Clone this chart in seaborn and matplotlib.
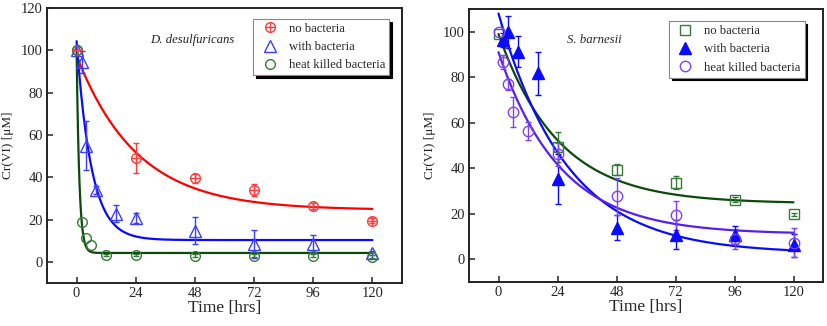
import numpy as np
import pandas as pd
import seaborn as sns
import matplotlib
matplotlib.use("Agg")
import matplotlib.pyplot as plt
from matplotlib.lines import Line2D

sns.set_theme(style="ticks")
plt.rcParams['font.family'] = ['Liberation Serif', 'DejaVu Serif']
plt.rcParams['mathtext.fontset'] = 'stix'

# ---------------- data: D. desulfuricans (left) ----------------
L_no_t = [0, 24, 48, 72, 96, 120]
L_no_y = [100, 49, 39.5, 34, 26.3, 19.5]
L_no_e = [0, 7, 2, 3, 1.5, 1]

L_with_t = [0, 2, 4, 8, 16, 24, 48, 72, 96, 120]
L_with_y = [100, 94.5, 55, 34, 22.7, 20.8, 14.8, 8.4, 8.4, 4.1]
L_with_e = [0, 5, 11.5, 2, 4, 2.5, 6.5, 6.5, 4.3, 1]

L_heat_t = [0, 2, 4, 6, 12, 24, 48, 72, 96, 120]
L_heat_y = [100, 19, 11.3, 7.9, 3.3, 3.3, 3.0, 3.0, 3.0, 2.4]
L_heat_e = [0, 0, 0, 0, 0.6, 0.6, 0.8, 0.8, 0.8, 0.8]

# fitted exponential-decay parameters (offset, amplitude, rate)
L_no_fit = (24.5, 73.0, 0.041)
L_with_fit = (10.3, 94.0, 0.167)
L_heat_fit = (4.2, 96.0, 0.9)

# ---------------- data: S. barnesii (right) ----------------
R_no_t = [0, 24, 48, 72, 96, 120]
R_no_y = [99, 49.3, 39.4, 33.7, 26.2, 19.7]
R_no_e = [0, 6.6, 2.3, 3, 1, 0.8]

R_with_t = [2, 4, 8, 16, 24, 48, 72, 96, 120]
R_with_y = [96.5, 100, 91.3, 81.8, 35.1, 13.9, 10.8, 10.5, 6.2]
R_with_e = [3, 7, 7, 9.5, 11, 5.5, 6.5, 4, 5]

R_heat_t = [0, 2, 4, 6, 12, 24, 48, 72, 96, 120]
R_heat_y = [100, 86.7, 76.9, 64.7, 56.4, 46.1, 27.6, 19.3, 8.8, 7.3]
R_heat_e = [0, 3, 2.5, 6.7, 4, 5, 8, 6.3, 4.5, 6.5]

R_no_fit = (24.5, 74.5, 0.041)
R_with_fit = (2.5, 105.5, 0.036)
R_heat_fit = (11.0, 80.0, 0.040)

xticks = [0, 24, 48, 72, 96, 120]
labels = ["no bacteria", "with bacteria", "heat killed bacteria"]

W, H = 827, 326
fig = plt.figure(figsize=(W / 100, H / 100), dpi=100)
axL = fig.add_axes([47 / W, (H - 283) / H, 355 / W, 275 / H])
axR = fig.add_axes([469 / W, (H - 282) / H, 354 / W, 273 / H])

tt = np.linspace(0, 120, 400)


def fitcurve(ax, p, color):
    c, a, k = p
    df = pd.DataFrame({"t": tt, "y": c + a * np.exp(-k * tt)})
    sns.lineplot(data=df, x="t", y="y", ax=ax, color=color, lw=1.6, zorder=2)


def points(ax, t, y, e, color, marker, filled=False, ms=7):
    e = [v if v > 0 else np.nan for v in e]
    ax.errorbar(t, y, yerr=e, fmt=marker, ms=ms, mfc=color if filled else 'none',
                mec=color, mew=1.0, ecolor=color, elinewidth=1.0, capsize=2.5,
                capthick=1.0, zorder=3)


# colours
red_l, red_m = '#ff0000', '#ff3b3b'
blue_l, blue_m = '#0a0aff', '#3d3dff'
dgreen_l, green_m = '#0b4a0b', '#357a35'
purple_l, purple_m = '#5520ee', '#8040ff'

# ---- left panel ----
fitcurve(axL, L_no_fit, red_l)
fitcurve(axL, L_with_fit, blue_l)
fitcurve(axL, L_heat_fit, dgreen_l)
points(axL, L_no_t, L_no_y, L_no_e, red_m, 'o')
axL.plot(L_no_t, L_no_y, ls='none', marker='+', ms=7, mec=red_m, mew=1.0, zorder=4)
points(axL, L_with_t, L_with_y, L_with_e, blue_m, '^', ms=8)
points(axL, L_heat_t, L_heat_y, L_heat_e, green_m, 'o')

hL = [
    (Line2D([], [], ls='none', marker='o', ms=7, mfc='none', mec=red_m),
     Line2D([], [], ls='none', marker='+', ms=7, mec=red_m)),
    Line2D([], [], ls='none', marker='^', ms=8, mfc='none', mec=blue_m),
    Line2D([], [], ls='none', marker='o', ms=7, mfc='none', mec=green_m),
]
axL.text(0.41, 0.885, "D. desulfuricans", transform=axL.transAxes, fontsize=9.2,
         style='italic', ha='center', va='center')

# ---- right panel ----
fitcurve(axR, R_no_fit, dgreen_l)
fitcurve(axR, R_with_fit, blue_l)
fitcurve(axR, R_heat_fit, purple_l)
points(axR, R_no_t, R_no_y, R_no_e, green_m, 's', ms=6.5)
points(axR, R_with_t, R_with_y, R_with_e, blue_l, '^', filled=True, ms=8)
points(axR, R_heat_t, R_heat_y, R_heat_e, purple_m, 'o', ms=7.5)

hR = [
    Line2D([], [], ls='none', marker='s', ms=6.5, mfc='none', mec=green_m),
    Line2D([], [], ls='none', marker='^', ms=8, mfc=blue_l, mec=blue_l),
    Line2D([], [], ls='none', marker='o', ms=7.5, mfc='none', mec=purple_m),
]
axR.text(0.355, 0.885, "S. barnesii", transform=axR.transAxes, fontsize=9.2,
         style='italic', ha='center', va='center')

for ax, hs, ylim, yt, bb in [
    (axL, hL, (-10, 120), [0, 20, 40, 60, 80, 100, 120], (0.963, 0.96)),
    (axR, hR, (-10, 110), [0, 20, 40, 60, 80, 100], (0.948, 0.955)),
]:
    ax.set_xlim(-12, 132)
    ax.set_ylim(*ylim)
    ax.set_xticks(xticks)
    ax.set_yticks(yt)
    ax.tick_params(direction='in', length=4, width=1.1, labelsize=10.5,
                   top=False, right=False, pad=3)
    for s in ax.spines.values():
        s.set_linewidth(1.4)
        s.set_color('#222222')
    ax.set_xlabel("Time [hrs]", fontsize=12.5, labelpad=0)
    ax.set_ylabel("Cr(VI) [μM]", fontsize=9.5, labelpad=5)
    leg = ax.legend(hs, labels, loc='upper right', bbox_to_anchor=bb,
                    fontsize=9.1, frameon=True, fancybox=False,
                    shadow={'color': 'black', 'alpha': 1.0}, framealpha=1,
                    edgecolor='#888888', borderpad=0.3, labelspacing=0.5,
                    handletextpad=0.5, handlelength=2.0, borderaxespad=0.0)
    leg.get_frame().set_linewidth(0.8)

fig.savefig("out.png", dpi=100)
